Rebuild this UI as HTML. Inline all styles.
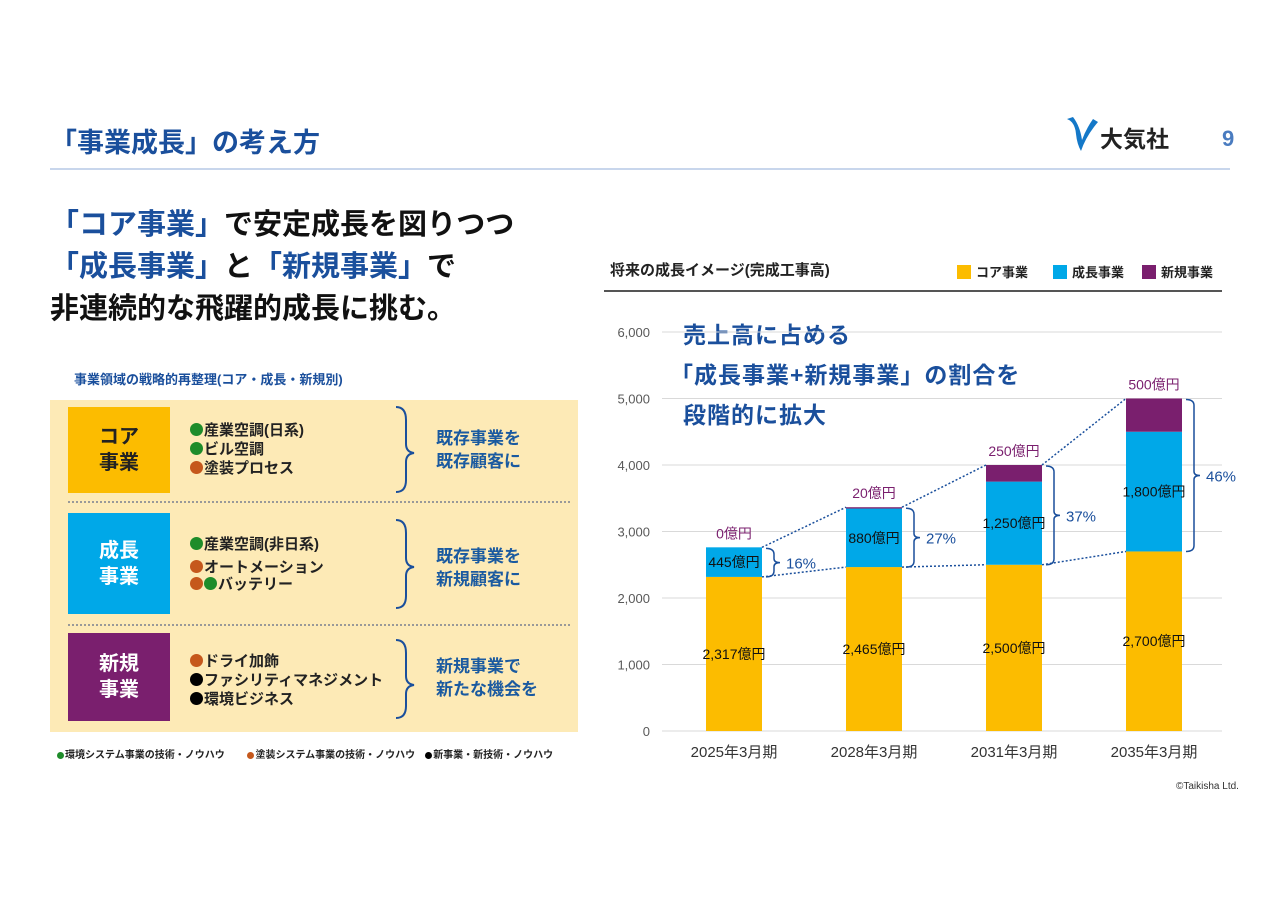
<!DOCTYPE html>
<html><head><meta charset="utf-8">
<style>
body{margin:0;width:1280px;height:905px;background:#fff;font-family:"Liberation Sans","Noto Sans CJK JP",sans-serif;position:relative;overflow:hidden}
.a{position:absolute;white-space:nowrap}
.cat{position:absolute;left:68px;width:102px;color:#fff;font-size:20px;font-weight:bold;display:flex;align-items:center;justify-content:center;text-align:center;line-height:26px}
.items{position:absolute;left:190px;font-size:15px;line-height:19px;font-weight:bold;color:#222}
.res{position:absolute;left:436px;font-size:17px;line-height:23px;font-weight:bold;color:#1a5aa0}
.dot{display:inline-block;width:13px;height:13px;border-radius:50%;vertical-align:-1px;margin-right:1px}
.g{background:#1e8c2a}.o{background:#c5581c}.k{background:#000}
.sep{position:absolute;left:68px;width:502px;border-top:2px dotted #999}
.lg{position:absolute;top:262px;font-size:13px;font-weight:bold;color:#222;white-space:nowrap}
.lg i{display:inline-block;width:14px;height:14px;vertical-align:-2px;margin-right:5px}
</style></head><body>
<div class="a" style="left:50px;top:121px;font-size:27px;font-weight:bold;color:#1a4f9c">「事業成長」の考え方</div>
<div class="a" style="left:50px;top:168px;width:1180px;height:2px;background:#c8d6ec"></div>
<div class="a" style="left:1066px;top:114px;width:124px;height:40px">
<svg width="34" height="40" viewBox="0 0 34 40"><path d="M1 5 Q9 8 10 20 Q11 30 15 37 Q20 22 32 8 L27 5 Q20 15 16 26 Q14 12 7 3Z" fill="#1478c8"/></svg>
<span class="a" style="left:34px;top:6px;font-size:23px;font-weight:bold;color:#222">大気社</span></div>
<div class="a" style="left:1222px;top:126px;font-size:22px;font-weight:bold;color:#4a7cc0">9</div>

<div class="a" style="left:50px;top:204px;font-size:29px;font-weight:bold;line-height:42px;color:#111">
<span style="color:#1a4f9c">「コア事業」</span>で安定成長を図りつつ<br><span style="color:#1a4f9c">「成長事業」</span>と<span style="color:#1a4f9c">「新規事業」</span>で<br>非連続的な飛躍的成長に挑む。</div>

<div class="a" style="left:74px;top:369px;font-size:13px;font-weight:bold;color:#1a4f9c">事業領域の戦略的再整理(コア・成長・新規別)</div>
<div class="a" style="left:50px;top:400px;width:528px;height:332px;background:#fdeab6"></div>
<div class="cat" style="top:407px;height:86px;background:#fcbc00;color:#222">コア<br>事業</div>
<div class="cat" style="top:513px;height:101px;background:#00a8e8">成長<br>事業</div>
<div class="cat" style="top:633px;height:88px;background:#7a1f6e">新規<br>事業</div>
<div class="items" style="top:421px"><span class="dot g"></span>産業空調(日系)<br><span class="dot g"></span>ビル空調<br><span class="dot o"></span>塗装プロセス</div>
<div class="items" style="top:533px;line-height:23px"><span class="dot g"></span>産業空調(非日系)<br><span class="dot o"></span>オートメーション</div>
<div class="items" style="top:575px"><span class="dot o"></span><span class="dot g"></span>バッテリー</div>
<div class="items" style="top:652px"><span class="dot o"></span>ドライ加飾<br><span class="dot k"></span>ファシリティマネジメント<br><span class="dot k"></span>環境ビジネス</div>
<svg class="a" style="left:390px;top:400px" width="40" height="332">
<g fill="none" stroke="#1a4f9c" stroke-width="2">
<path d="M6 7 Q16 7 16 20 L16 44 Q16 52 24 53 Q16 54 16 62 L16 80 Q16 92 6 92"/>
<path d="M6 120 Q16 120 16 133 L16 158 Q16 166 24 167 Q16 168 16 176 L16 196 Q16 208 6 208"/>
<path d="M6 240 Q16 240 16 253 L16 276 Q16 284 24 285 Q16 286 16 294 L16 306 Q16 318 6 318"/></g></svg>
<div class="res" style="top:427px">既存事業を<br>既存顧客に</div>
<div class="res" style="top:545px">既存事業を<br>新規顧客に</div>
<div class="res" style="top:655px">新規事業で<br>新たな機会を</div>
<div class="sep" style="top:501px"></div>
<div class="sep" style="top:624px"></div>
<div class="a" style="left:57px;top:746px;font-size:10px;font-weight:bold;color:#222"><span class="dot g" style="width:7px;height:7px"></span>環境システム事業の技術・ノウハウ　　 <span class="dot o" style="width:7px;height:7px"></span>塗装システム事業の技術・ノウハウ　<span class="dot k" style="width:7px;height:7px"></span>新事業・新技術・ノウハウ</div>

<div class="a" style="left:610px;top:259px;font-size:15px;font-weight:bold;color:#222">将来の成長イメージ(完成工事高)</div>
<div class="a" style="left:604px;top:290px;width:618px;height:2px;background:#555"></div>
<div class="lg" style="left:957px"><i style="background:#fcbc00"></i>コア事業</div>
<div class="lg" style="left:1053px"><i style="background:#00a8e8"></i>成長事業</div>
<div class="lg" style="left:1142px"><i style="background:#7a1f6e"></i>新規事業</div>
<div class="a" style="left:683px;top:316px;font-size:23px;font-weight:bold;color:#1a4f9c;letter-spacing:1px">売上高に占める</div>
<div class="a" style="left:670px;top:356px;font-size:23px;font-weight:bold;color:#1a4f9c;letter-spacing:1px">「成長事業+新規事業」の割合を</div>
<div class="a" style="left:683px;top:396px;font-size:23px;font-weight:bold;color:#1a4f9c;letter-spacing:1px">段階的に拡大</div>

<svg id="chart" class="a" style="left:0;top:0" width="1280" height="905"></svg>
<div class="a" style="left:1176px;top:781px;font-size:10px;color:#333">©Taikisha Ltd.</div>
<script>
const categories=["2025年3月期","2028年3月期","2031年3月期","2035年3月期"];
const coreVals=[2317,2465,2500,2700];
const growthVals=[445,880,1250,1800];
const newVals=[0,20,250,500];
const shareLabels=["16%","27%","37%","46%"];
const yTicks=[0,1000,2000,3000,4000,5000,6000];
const svg=document.getElementById('chart');
const NS='http://www.w3.org/2000/svg';
const y0=731,yTop=332,yMax=6000,x0=662,x1=1222,bw=56;
const y=v=>y0-(v/yMax)*(y0-yTop);
const xc=i=>x0+(x1-x0)*(i+0.5)/categories.length+2;
function mk(t,a,txt){const e=document.createElementNS(NS,t);for(const k in a)e.setAttribute(k,a[k]);if(txt!=null)e.textContent=txt;svg.appendChild(e);return e;}
const fmt=v=>v.toLocaleString('en-US');
yTicks.forEach(t=>{
 const l=mk('line',{x1:x0,x2:x1,y1:y(t),y2:y(t),stroke:'#d9d9d9','stroke-width':1});
 
 
 const tx=mk('text',{x:650,y:y(t)+5,'text-anchor':'end','font-size':13,fill:'#595959','font-family':'Liberation Sans'},fmt(t));
 
 
});
const tops=[],coreTops=[];
categories.forEach((c,i)=>{
 const cx=xc(i),xl=cx-bw/2;
 const segs=[[0,coreVals[i],'#fcbc00','bar-core'],[coreVals[i],coreVals[i]+growthVals[i],'#00a8e8','bar-growth'],[coreVals[i]+growthVals[i],coreVals[i]+growthVals[i]+newVals[i],'#7a1f6e','bar-new']];
 segs.forEach(s=>{const r=mk('rect',{x:xl,y:y(s[1]),width:bw,height:Math.max(0,y(s[0])-y(s[1])),fill:s[2]});
  
  });
 const total=coreVals[i]+growthVals[i]+newVals[i];
 tops.push([xl,xl+bw,y(total)]);coreTops.push([xl,xl+bw,y(coreVals[i])]);
 const f={'text-anchor':'middle','font-size':14,'font-family':'Liberation Sans, Noto Sans CJK JP, sans-serif'};
 let t=mk('text',Object.assign({x:cx,y:y(coreVals[i]/2)+5,fill:'#111'},f),fmt(coreVals[i])+'億円');
 
 
 t=mk('text',Object.assign({x:cx,y:y(coreVals[i]+growthVals[i]/2)+5,fill:'#111'},f),fmt(growthVals[i])+'億円');
 
 
 t=mk('text',Object.assign({x:cx,y:y(total)-9,fill:'#7a1f6e'},f),fmt(newVals[i])+'億円');
 
 
 t=mk('text',Object.assign({x:cx,y:757,fill:'#333','font-size':15},{'text-anchor':'middle','font-family':'Liberation Sans, Noto Sans CJK JP, sans-serif'}),c);
 
 
 const bx=xl+bw+4,ya=y(total)+1,yb=y(coreVals[i]),ym=(ya+yb)/2;
 const b=mk('path',{d:`M${bx} ${ya} Q${bx+8} ${ya} ${bx+8} ${ya+6} L${bx+8} ${ym-4} Q${bx+8} ${ym} ${bx+14} ${ym} Q${bx+8} ${ym} ${bx+8} ${ym+4} L${bx+8} ${yb-6} Q${bx+8} ${yb} ${bx} ${yb}`,fill:'none',stroke:'#1a4f9c','stroke-width':1.5});
 
 
 t=mk('text',{x:bx+20,y:ym+6,'font-size':15,fill:'#1a4f9c','font-family':'Liberation Sans'},shareLabels[i]);
 
 
});
for(let i=0;i<categories.length-1;i++){
 [tops,coreTops].forEach(arr=>{const l=mk('line',{x1:arr[i][1],y1:arr[i][2],x2:arr[i+1][0],y2:arr[i+1][2],stroke:'#1a4f9c','stroke-width':1.5,'stroke-dasharray':'2 2'});
  
  });
}
</script>
</body></html>
